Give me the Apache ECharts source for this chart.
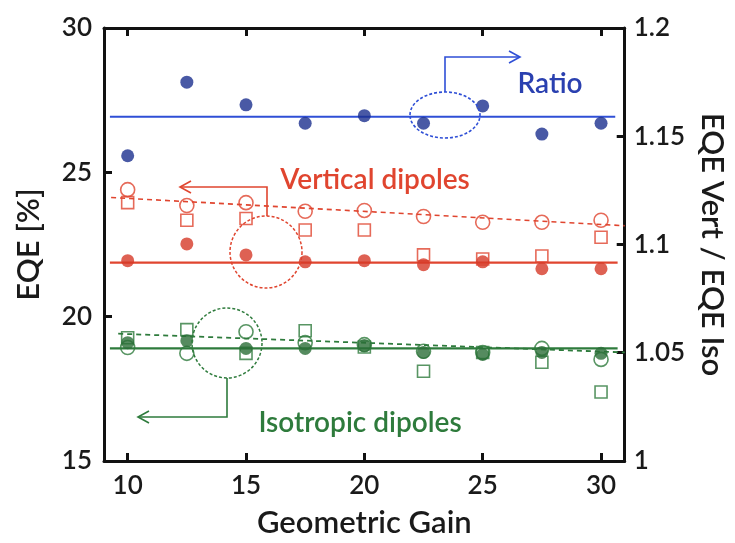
<!DOCTYPE html>
<html><head><meta charset="utf-8">
<script src="https://cdn.jsdelivr.net/npm/echarts@6/dist/echarts.min.js"></script>
<style>html,body{margin:0;padding:0;background:#fff}#c{width:735px;height:543px}</style>
</head><body><div id="c"></div>
<script>
// Geometric gain values
const gain = [10, 12.5, 15, 17.5, 20, 22.5, 25, 27.5, 30];
// Ratio EQE Vert / EQE Iso (right axis)
const ratio = [1.141, 1.175, 1.1645, 1.156, 1.1595, 1.156, 1.164, 1.151, 1.156];
// Vertical dipoles EQE [%]
const vertFilled = [21.94, 22.52, 22.14, 21.9, 21.94, 21.8, 21.9, 21.66, 21.66];
const vertCircle = [24.4, 23.85, 23.95, 23.65, 23.68, 23.47, 23.27, 23.27, 23.34];
const vertSquare = [23.95, 23.34, 23.4, 23.0, 23.0, 22.14, 22.0, 22.1, 22.75];
// Isotropic dipoles EQE [%]
const isoFilled = [19.1, 19.17, 18.9, 18.9, 19.0, 18.76, 18.69, 18.76, 18.73];
const isoCircle = [18.93, 18.73, 19.48, 19.1, 19.03, 18.8, 18.76, 18.9, 18.52];
const isoSquare = [19.27, 19.55, 18.73, 19.51, 18.95, 18.11, 18.76, 18.42, 17.39];
// Fit lines: [x, y] endpoints
const ratioFit = [[9.25, 1.159], [30.6, 1.159]];
const vertFit = [[9.25, 21.87], [30.7, 21.87]];
const vertTrend = [[9.3, 24.13], [31, 23.15]];
const isoFit = [[9.25, 18.9], [30.7, 18.9]];
const isoTrend = [[9.6, 19.41], [31, 18.76]];
// Axis ticks
const xTicks = [10, 15, 20, 25, 30];
const leftTicks = [15, 20, 25, 30];
const rightTicks = [1, 1.05, 1.1, 1.15, 1.2];

const BLUE_PT = '#1c2f8f', BLUE_LN = '#2f4fd6';
const RED = '#e0452f', RED_PT = '#d63a28';
const GREEN = '#2e7b3c', GREEN_PT = '#2b6e37';
const FONT = 'Lato';
const W = 600;
const pair = (ys) => gain.map((g, i) => [g, ys[i]]);

const axisLine = {show: true, lineStyle: {color: '#111', width: 3}};
const tick = {show: true, inside: true, length: 8, lineStyle: {color: '#111', width: 3}};
const lbl = {color: '#1a1a1a', fontFamily: FONT, fontSize: 26, fontWeight: W};
const nameStyle = {color: '#1a1a1a', fontFamily: FONT, fontSize: 31, fontWeight: W};

function scatter(name, data, sym, size, color, filled, yIdx) {
  return {
    type: 'scatter', name, data, yAxisIndex: yIdx || 0, symbol: sym, symbolSize: size, z: 5,
    itemStyle: filled ? {color} : {color: 'rgba(0,0,0,0)', borderColor: color, borderWidth: 1.6}
  };
}
function line(data, color, dashed, yIdx, w) {
  return {type: 'line', data, yAxisIndex: yIdx || 0, symbol: 'none', z: 3,
    lineStyle: {color, width: w || 2.2, type: dashed ? [5, 4] : 'solid'}};
}
const annFont = W + ' 28px Lato';

const chart = echarts.init(document.getElementById('c'));
chart.setOption({
  animation: false,
  backgroundColor: '#fff',
  grid: {left: 104, right: 107, top: 28, bottom: 76, containLabel: false},
  xAxis: [
    {type: 'value', min: 9, max: 31, position: 'bottom',
     axisLine, axisTick: {...tick, customValues: xTicks}, splitLine: {show: false},
     axisLabel: {...lbl, margin: 12, customValues: xTicks},
     name: 'Geometric Gain', nameLocation: 'middle', nameGap: 46, nameTextStyle: nameStyle},
    {type: 'value', min: 9, max: 31, position: 'top',
     axisLine, axisTick: {...tick, customValues: xTicks}, splitLine: {show: false},
     axisLabel: {show: false}}
  ],
  yAxis: [
    {type: 'value', min: 15, max: 30, interval: 5, position: 'left',
     axisLine, axisTick: tick, splitLine: {show: false},
     axisLabel: {...lbl, margin: 12},
     name: 'EQE [%]', nameLocation: 'middle', nameGap: 60, nameTextStyle: nameStyle},
    {type: 'value', min: 1, max: 1.2, interval: 0.05, position: 'right',
     axisLine, axisTick: tick, splitLine: {show: false},
     axisLabel: {...lbl, margin: 9, formatter: (v) => String(+v.toFixed(2))},
     name: 'EQE Vert / EQE Iso', nameLocation: 'middle', nameGap: 64, nameRotate: -90,
     nameTextStyle: nameStyle}
  ],
  series: [
    line(ratioFit, BLUE_LN, false, 1),
    line(vertFit, RED, false, 0),
    line(vertTrend, RED, true, 0, 1.6),
    line(isoFit, GREEN, false, 0),
    line(isoTrend, GREEN, true, 0, 1.8),
    scatter('Vertical squares', pair(vertSquare), 'rect', 12, RED, false),
    scatter('Vertical circles', pair(vertCircle), 'circle', 14, RED, false),
    scatter('Vertical filled', pair(vertFilled), 'circle', 13, RED_PT, true),
    scatter('Isotropic squares', pair(isoSquare), 'rect', 12, GREEN, false),
    scatter('Isotropic circles', pair(isoCircle), 'circle', 14, GREEN, false),
    scatter('Isotropic filled', pair(isoFilled), 'circle', 13, GREEN_PT, true),
    scatter('Ratio', pair(ratio), 'circle', 13, BLUE_PT, true, 1)
  ],
  graphic: [
    // Ratio annotation
    {type: 'ellipse', shape: {cx: 445, cy: 115, rx: 35, ry: 23}, z: 10,
     style: {fill: 'none', stroke: BLUE_LN, lineWidth: 1.6, lineDash: [3, 2]}},
    {type: 'polyline', shape: {points: [[445, 92], [445, 57], [520, 57]]}, z: 10,
     style: {fill: 'none', stroke: BLUE_LN, lineWidth: 1.6}},
    {type: 'polyline', shape: {points: [[509, 51], [520, 57], [509, 63]]}, z: 10,
     style: {fill: 'none', stroke: BLUE_LN, lineWidth: 1.6}},
    {type: 'text', x: 550, y: 84, z: 10,
     style: {text: 'Ratio', fill: '#2a40b0', font: annFont, textAlign: 'center', textVerticalAlign: 'middle'}},
    // Vertical dipoles annotation
    {type: 'circle', shape: {cx: 266, cy: 252, r: 36}, z: 10,
     style: {fill: 'none', stroke: RED, lineWidth: 1.5, lineDash: [3, 2]}},
    {type: 'polyline', shape: {points: [[267, 216], [267, 187], [180, 187]]}, z: 10,
     style: {fill: 'none', stroke: RED, lineWidth: 1.6}},
    {type: 'polyline', shape: {points: [[191, 181], [180, 187], [191, 193]]}, z: 10,
     style: {fill: 'none', stroke: RED, lineWidth: 1.6}},
    {type: 'text', x: 375, y: 180, z: 10,
     style: {text: 'Vertical dipoles', fill: RED, font: annFont, textAlign: 'center', textVerticalAlign: 'middle'}},
    // Isotropic dipoles annotation
    {type: 'circle', shape: {cx: 227, cy: 343, r: 35}, z: 10,
     style: {fill: 'none', stroke: GREEN, lineWidth: 1.5, lineDash: [3, 2]}},
    {type: 'polyline', shape: {points: [[227, 378], [227, 417], [138, 417]]}, z: 10,
     style: {fill: 'none', stroke: GREEN, lineWidth: 1.6}},
    {type: 'polyline', shape: {points: [[149, 411], [138, 417], [149, 423]]}, z: 10,
     style: {fill: 'none', stroke: GREEN, lineWidth: 1.6}},
    {type: 'text', x: 360, y: 423, z: 10,
     style: {text: 'Isotropic dipoles', fill: GREEN, font: annFont, textAlign: 'center', textVerticalAlign: 'middle'}}
  ]
});
</script></body></html>
